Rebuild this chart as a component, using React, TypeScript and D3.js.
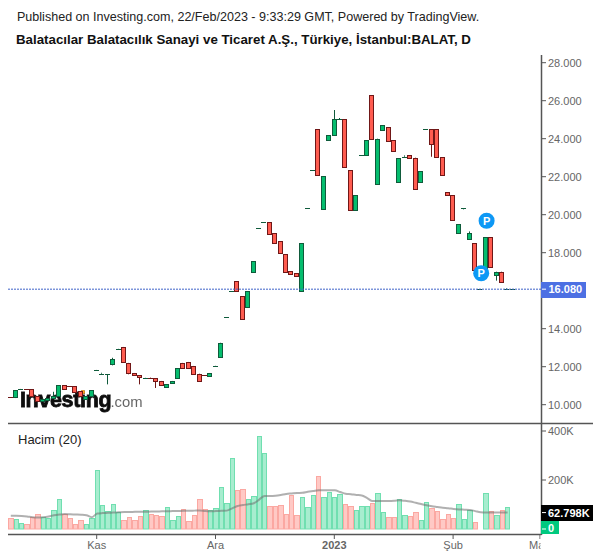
import React from "react";
import * as d3 from "d3";

const opens = [10.4,10.4,10.82,10.81,10.82,10.45,10.2,10.25,10.35,10.44,11.02,10.96,10.98,10.7,10.3,10.47,11.78,11.63,11.58,12.12,12.93,13.04,12.2,11.67,11.56,11.41,11.43,11.4,11.25,10.93,11.14,11.39,12.2,12.25,12.04,11.63,11.55,11.53,12.04,12.49,14.58,15.96,16.49,15.7,15.16,17.0,19.28,19.6,19.6,19.02,18.6,17.91,17.02,16.91,16.0,20.32,22.33,24.49,20.32,23.95,24.21,25.02,25.02,22.33,20.26,23.12,23.16,26.28,21.63,24.47,24.6,23.91,21.7,23.05,23.12,23.0,21.7,24.49,24.49,24.49,23.02,21.18,21.02,19.02,20.33,18.7,18.49,16.07,17.17,18.81,16.81,17.0,16.07,16.08];
const closes = [10.39,10.77,10.83,10.79,10.47,10.2,10.3,10.35,10.45,11.02,10.81,10.94,10.68,10.44,10.45,10.77,11.83,11.64,11.59,12.4,12.94,12.23,11.65,11.54,11.44,11.42,11.41,11.25,11.02,11.09,11.25,11.93,11.93,11.93,11.6,11.25,11.53,11.67,12.05,13.26,14.59,15.97,16.0,14.53,15.96,17.54,19.29,19.61,19.0,18.53,18.0,17.0,16.89,16.79,18.49,20.33,22.34,22.1,22.02,24.18,25.02,25.03,22.53,20.26,21.02,23.13,23.91,24.0,24.0,24.7,23.9,23.37,22.96,23.06,23.0,21.33,22.28,24.5,23.7,23.02,22.07,21.02,19.7,19.49,20.34,19.02,17.09,16.08,18.81,17.23,17.0,16.47,16.08,16.09];
const highs = [10.4,10.77,10.83,10.81,10.82,10.45,10.3,10.35,10.68,11.02,11.02,10.96,10.98,10.7,10.45,10.77,11.83,11.68,11.59,12.47,12.94,13.04,12.2,11.67,11.56,11.42,11.43,11.4,11.25,11.09,11.25,11.93,12.2,12.25,12.04,11.63,11.55,11.67,12.05,13.26,14.59,15.97,16.49,15.7,15.96,17.54,19.29,19.61,19.6,19.02,18.6,17.91,17.02,16.91,18.49,20.33,22.34,24.49,22.02,24.18,25.51,25.09,25.02,22.33,21.02,23.13,23.91,26.28,24.0,24.7,24.6,23.91,22.96,23.12,23.12,23.0,22.28,24.5,24.49,24.49,23.02,21.18,21.02,19.49,20.34,19.12,18.49,16.08,18.81,18.81,17.0,17.0,16.12,16.09];
const lows = [10.39,10.35,10.82,10.79,10.47,10.2,10.2,10.25,10.35,10.44,10.81,10.94,10.68,10.44,10.3,10.47,11.78,11.63,11.07,12.07,12.93,12.23,11.6,11.54,11.07,11.41,11.41,10.88,11.02,10.93,11.14,11.39,11.93,11.93,11.6,11.2,11.53,11.53,12.04,12.49,14.58,15.96,16.0,14.53,15.16,17.0,19.28,19.6,19.0,18.53,18.0,17.0,16.89,16.79,16.0,20.32,22.33,22.1,20.32,23.95,24.21,25.02,22.53,20.26,20.26,23.12,23.16,24.0,21.63,24.47,23.9,23.37,21.7,23.05,23.0,21.33,21.7,24.49,23.05,23.02,22.07,21.02,19.7,19.02,20.28,18.7,17.09,16.07,17.17,17.23,16.53,16.42,16.07,16.08];
const volumes = [44,39,23,19,48,61,50,44,76,121,61,44,19,35,19,44,239,97,72,101,68,35,48,35,52,76,60,56,52,88,35,52,80,31,56,121,80,76,84,170,105,288,158,162,121,133,378,309,92,92,97,60,137,56,129,88,137,215,129,150,129,141,101,92,76,92,92,105,146,68,48,48,121,56,52,68,35,109,84,72,39,60,44,101,39,76,27,0.5,146,72,56,76,88,0.5];
const volumeAverage = [54,54,53,51,48,47,48,51,56,59,61,60,59,58,56,48,63,65,66,67,68,69,69,70,70,70,71,71,72,72,73,73,74,74,75,76,73,72,73,74,75,84,94,98,101,105,120,135,135,136,139,143,145,147,148,152,155,158,158,158,158,151,144,142,139,137,126,114,114,114,114,115,117,115,112,107,102,97,93,90,87,85,82,80,79,78,73,68,67,67,67,67,67];
const priceTicks = [10, 12, 14, 18, 20, 22, 24, 26, 28];
const priceLabels = ["10.000", "12.000", "14.000", "18.000", "20.000", "22.000", "24.000", "26.000", "28.000"];
const volumeTicks = [200, 400];
const timeIndices = [16, 38, 60, 82];
const timeLabels = ["Kas", "Ara", "2023", "Şub"];
const lastPrice = 16.08;
const maLabelLevel = 67;
const pMarkers = [{ i: 88, p: 19.68 }, { i: 87, p: 16.92 }];

const FONT = "'Liberation Sans', Arial, sans-serif";
const AXIS = "#555555";
const TEXT = "#666666";

export default function App() {
  const xVol = d3.scaleLinear().domain([0, 93]).range([10.8, 513]);
  const x = (i: number) => xVol(i) - 1.2;
  const y = d3.scaleLinear().domain([10, 26]).range([404.7, 100.7]);
  const yVol = d3.scaleLinear().domain([0, 200]).range([529, 480]);
  const line = d3
    .line<number>()
    .x((_, i) => xVol(i))
    .y((d) => yVol(d))
    .curve(d3.curveMonotoneX);
  const barW = xVol(1) - xVol(0);
  const edgeAt = (i: number) => Math.round(xVol(i) - barW / 2);

  return (
    <svg
      width={600}
      height={558}
      style={{ position: "absolute", left: 0, top: 0, background: "#fff", fontFamily: FONT }}
    >
      <defs>
        <clipPath id="plotClip"><rect x={0} y={530} width={540.5} height={28} /></clipPath>
        <filter id="soft" x="-5%" y="-10%" width="110%" height="120%">
          <feGaussianBlur stdDeviation={0.7} />
        </filter>
      </defs>
      <text x={17} y={21} fontSize={12.55} fill="#222">
        Published on Investing.com, 22/Feb/2023 - 9:33:29 GMT, Powered by TradingView.
      </text>
      <text x={16} y={44} fontSize={13.3} fontWeight="bold" fill="#111">
        Balatacılar Balatacılık Sanayi ve Ticaret A.Ş., Türkiye, İstanbul:BALAT, D
      </text>

      {/* volume */}
      {volumes.map((v, i) => {
        const up = closes[i] >= opens[i];
        return (
          <rect
            key={i}
            x={edgeAt(i) + 0.5}
            width={edgeAt(i + 1) - edgeAt(i) - 1}
            y={Math.round(yVol(v)) + 0.5}
            height={Math.max(0, 528.5 - Math.round(yVol(v)))}
            fill={up ? "#a7edcf" : "#ffc9c5"}
            stroke={up ? "#70dfb0" : "#fba8a2"}
            strokeWidth={1}
          />
        );
      })}
      <path d={line(volumeAverage) || ""} fill="none" stroke="#6f6f6f" strokeOpacity={0.55} strokeWidth={2} />
      <text x={18} y={444} fontSize={13} fill="#222">Hacim (20)</text>

      {/* logo */}
      <g>
        <text x={20} y={407} fontSize={21.5} fontWeight="bold" fill="#111" stroke="#111" strokeWidth={0.8} filter="url(#soft)" letterSpacing={-0.35}>
          Investing
        </text>
        <text x={110.5} y={407} fontSize={14.8} fill="#666" filter="url(#soft)">.com</text>
        <circle cx={83} cy={392} r={2} fill="#f7a21b" />
      </g>

      {/* candles */}
      {opens.map((o, i) => {
        const c = closes[i];
        const up = c >= o;
        const top = Math.round(y(Math.max(o, c)));
        const bot = Math.round(y(Math.min(o, c)));
        const edge = up ? "#0f5b3b" : "#701717";
        const fill = up ? "#05bd6e" : "#ff5c50";
        const left = Math.round(x(i) - 2);
        const cx = left + 2.5;
        return (
          <g key={i}>
            <line x1={cx} x2={cx} y1={y(highs[i])} y2={y(lows[i])} stroke={edge} strokeWidth={1} />
            {y(Math.min(o, c)) - y(Math.max(o, c)) < 1.5 ? (
              <line x1={cx - 2.5} x2={cx + 2.5} y1={top + 0.5} y2={top + 0.5} stroke={edge} strokeWidth={1} />
            ) : (
              <rect x={left + 0.5} width={4} y={top + 0.5} height={Math.max(1, bot - top)} fill={fill} stroke={edge} strokeWidth={1} />
            )}
          </g>
        );
      })}

      <line x1={8} x2={541} y1={y(lastPrice)} y2={y(lastPrice)} stroke="#3f62c9" strokeWidth={1} strokeDasharray="2 1" />

      {/* markers */}
      {pMarkers.map((m, k) => (
        <g key={k}>
          <circle cx={x(m.i) + 1.8} cy={y(m.p)} r={8} fill="#0d98f5" />
          <text x={x(m.i) + 1.8} y={y(m.p) + 4} fontSize={11} fontWeight="bold" fill="#fff" textAnchor="middle">P</text>
        </g>
      ))}

      {/* frame */}
      <line x1={541.5} x2={541.5} y1={55} y2={535} stroke={AXIS} strokeWidth={1.5} />
      <line x1={8} x2={593} y1={423.5} y2={423.5} stroke={AXIS} strokeWidth={1.5} />
      <line x1={8} x2={541.5} y1={534.5} y2={534.5} stroke={AXIS} strokeWidth={1.5} />

      {/* price axis */}
      {priceTicks.map((p, k) => (
        <g key={p}>
          <line x1={542} x2={546} y1={y(p)} y2={y(p)} stroke={AXIS} />
          <text x={548} y={y(p) + 4} fontSize={11} fill={TEXT}>{priceLabels[k]}</text>
        </g>
      ))}
      <rect x={541} y={282} width={45} height={16} fill="#4d70e3" />
      <line x1={542} x2={546} y1={y(lastPrice)} y2={y(lastPrice)} stroke="#fff" />
      <text x={548.5} y={y(lastPrice) + 4.3} fontSize={11} fontWeight="bold" fill="#fff">16.080</text>

      {/* volume axis */}
      {volumeTicks.map((v) => (
        <g key={v}>
          <line x1={542} x2={546} y1={yVol(v)} y2={yVol(v)} stroke={AXIS} />
          <text x={548} y={yVol(v) + 4} fontSize={11} fill={TEXT}>{v}K</text>
        </g>
      ))}
      <rect x={541} y={505} width={52} height={16} fill="#000" />
      <line x1={542} x2={546} y1={yVol(maLabelLevel)} y2={yVol(maLabelLevel)} stroke="#fff" />
      <text x={548} y={yVol(maLabelLevel) + 4} fontSize={11} fontWeight="bold" fill="#fff">62.798K</text>
      <rect x={541} y={521} width={18} height={13} fill="#00c97f" />
      <line x1={542} x2={546} y1={529} y2={529} stroke="#fff" />
      <text x={548} y={532} fontSize={11} fontWeight="bold" fill="#fff">0</text>

      {/* time axis */}
      {timeIndices.map((t, k) => (
        <g key={t}>
          <line x1={xVol(t) - 0.5} x2={xVol(t) - 0.5} y1={535} y2={539} stroke={AXIS} />
          <text
            x={xVol(t) - 0.5}
            y={549}
            fontSize={11}
            textAnchor="middle"
            fill={TEXT}
            fontWeight={timeLabels[k] === "2023" ? "bold" : "normal"}
          >
            {timeLabels[k]}
          </text>
        </g>
      ))}
      <g clipPath="url(#plotClip)">
        <line x1={540} x2={540} y1={535} y2={539} stroke={AXIS} />
        <text x={529} y={549} fontSize={11} fill={TEXT}>Mar</text>
      </g>
    </svg>
  );
}
